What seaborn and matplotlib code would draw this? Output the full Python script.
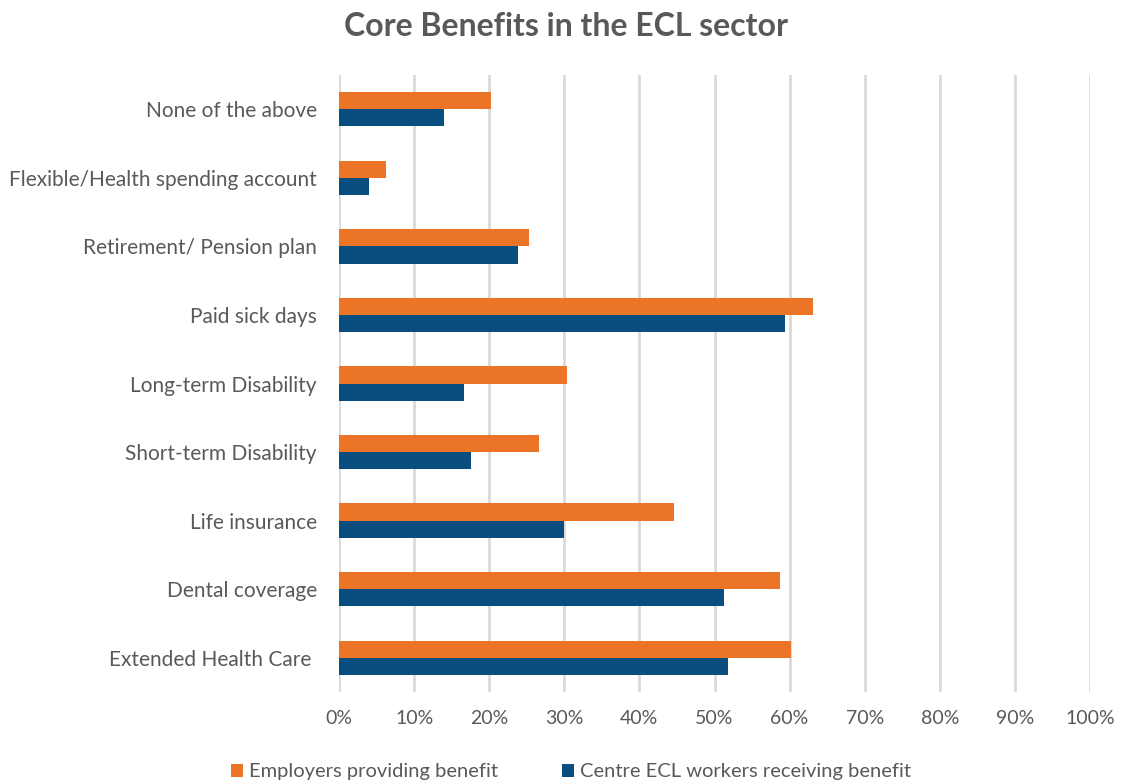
import matplotlib
matplotlib.use("Agg")
import matplotlib.pyplot as plt
from matplotlib.ticker import PercentFormatter
import seaborn as sns
import pandas as pd

categories = [
    "None of the above",
    "Flexible/Health spending account",
    "Retirement/ Pension plan",
    "Paid sick days",
    "Long-term Disability",
    "Short-term Disability",
    "Life insurance",
    "Dental coverage",
    "Extended Health Care ",
]
employers = [0.203, 0.063, 0.253, 0.631, 0.303, 0.266, 0.446, 0.587, 0.602]
workers = [0.140, 0.040, 0.239, 0.594, 0.166, 0.176, 0.300, 0.513, 0.518]
series_names = ["Employers providing benefit", "Centre ECL workers receiving benefit"]
colors = ["#EC7426", "#0A4E80"]
x_ticks = [i / 10 for i in range(11)]

df = pd.DataFrame({
    "benefit": categories * 2,
    "value": employers + workers,
    "series": [series_names[0]] * len(categories) + [series_names[1]] * len(categories),
})

sns.set_theme(style="white")
plt.rcParams["font.family"] = ["Lato", "DejaVu Sans"]
text_color = "#595959"

fig = plt.figure(figsize=(11.22, 7.84), dpi=100)
ax = fig.add_axes([339 / 1122, 1 - 692 / 784, (1090 - 339) / 1122, (692 - 75) / 784])

sns.barplot(
    data=df, x="value", y="benefit", hue="series", order=categories,
    hue_order=series_names, palette=colors, orient="h", width=0.5,
    saturation=1, linewidth=0, ax=ax, legend=True,
)

ax.set_xlim(0, 1.0)
ax.set_xticks(x_ticks)
ax.xaxis.set_major_formatter(PercentFormatter(1.0, decimals=0))
ax.grid(axis="x", color="#D9D9D9", linewidth=2)
ax.set_axisbelow(True)
for s in ax.spines.values():
    s.set_visible(False)
ax.set_xlabel("")
ax.set_ylabel("")
ax.tick_params(axis="x", colors=text_color, labelsize=14, length=0, pad=13)
ax.tick_params(axis="y", colors=text_color, labelsize=15, length=0, pad=16)

fig.suptitle("Core Benefits in the ECL sector", x=566 / 1122, y=1 - 26 / 784,
             va="center", fontsize=23, fontweight="bold", color=text_color)

handles, labels = ax.get_legend_handles_labels()
ax.get_legend().remove()
fig.legend(handles, labels, loc="center", bbox_to_anchor=(571 / 1122, 1 - 772 / 784),
           ncol=2, frameon=False, fontsize=14.5, labelcolor=text_color,
           handlelength=0.6, handleheight=0.6, handletextpad=0.3, columnspacing=3.2)

fig.savefig("out.png", dpi=100, facecolor="white")
